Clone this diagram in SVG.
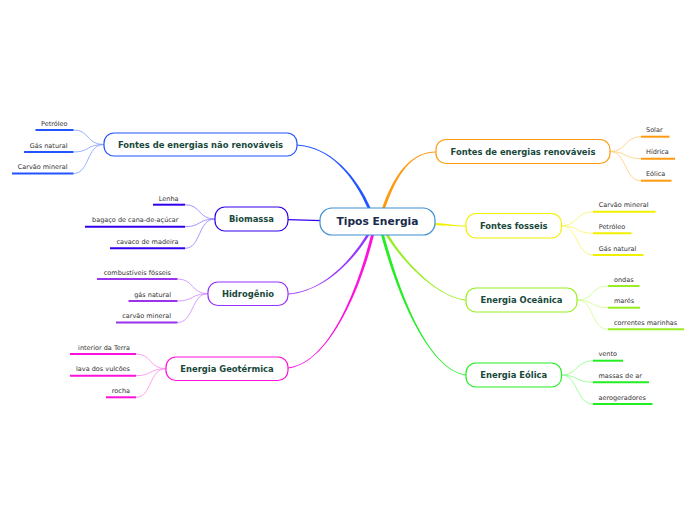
<svg xmlns="http://www.w3.org/2000/svg" width="696" height="520" viewBox="0 0 696 520">
<style>
.nt{font-family:"DejaVu Sans",Verdana,sans-serif;font-weight:bold;font-size:8.4px;fill:#17483a;text-anchor:middle}
.ct{font-family:"DejaVu Sans",Verdana,sans-serif;font-weight:bold;font-size:10.7px;fill:#1a2a4e;text-anchor:middle}
.lt{font-family:"DejaVu Sans",Verdana,sans-serif;font-size:6.5px;fill:#333}
.le{text-anchor:end}
.box{fill:#fff;stroke-width:1.2}
.ul{stroke-width:2;fill:none}
.lc{stroke-width:0.8;fill:none}
</style>
<rect width="696" height="520" fill="#fff"/>
<g id="connectors">
<path d="M297,144.6 C330,146.6 356.5,175 371.5,210 L368.5,210 C353.5,175 330,147.4 297,145.4 Z" fill="#2255ff"/>
<path d="M436,152.4 C412,152.4 397.5,172 384.5,210 L381.5,210 C394.5,172 412,151.6 436,151.6 Z" fill="#ff9a10"/>
<path d="M466,226.4 C452,226.4 446,225.2 432,225.2 L432,223 C446,223 452,225.6 466,225.6 Z" fill="#f0f000"/>
<path d="M288,219.6 L322,220.6" stroke="#3300ee" stroke-width="1.1" fill="none"/>
<path d="M288,293.6 C320,291.6 348.5,265 367.5,233 L370.5,233 C351.5,265 320,292.4 288,294.4 Z" fill="#9933ff"/>
<path d="M288,367.6 C326,363.6 355.5,298 371.5,233 L374.5,233 C358.5,298 326,364.4 288,368.4 Z" fill="#ff11dd"/>
<path d="M466,300.4 C440,298.4 403.5,265 384.5,233 L387.5,233 C406.5,265 440,297.6 466,299.6 Z" fill="#99ee22"/>
<path d="M466,375.4 C430,370.4 398.5,300 380.5,233 L383.5,233 C401.5,300 430,369.6 466,374.6 Z" fill="#22ee22"/>
<g stroke="#7f9fff" class="lc">
<path d="M104,144.5 C86,144.5 90,130 73.5,130"/>
<path d="M104,144.5 C86,144.5 90,152 73.5,152"/>
<path d="M104,144.5 C86,144.5 90,173.5 73.5,173.5"/>
</g>
<g stroke="#8c7dff" class="lc">
<path d="M215,219 C198,219 201,204.7 185,204.7"/>
<path d="M215,219 C198,219 201,226.7 185,226.7"/>
<path d="M215,219 C198,219 201,248.3 185,248.3"/>
</g>
<g stroke="#cc88ff" class="lc">
<path d="M208,293.7 C191,293.7 194,279 177.5,279"/>
<path d="M208,293.7 C191,293.7 194,301 177.5,301"/>
<path d="M208,293.7 C191,293.7 194,322.5 177.5,322.5"/>
</g>
<g stroke="#ff88ee" class="lc">
<path d="M166,368.7 C149,368.7 152,354 136,354"/>
<path d="M166,368.7 C149,368.7 152,375.7 136,375.7"/>
<path d="M166,368.7 C149,368.7 152,397.3 136,397.3"/>
</g>
<g stroke="#ffcc77" class="lc">
<path d="M610,151.5 C627,151.5 624,136.7 641,136.7"/>
<path d="M610,151.5 C627,151.5 624,158.7 641,158.7"/>
<path d="M610,151.5 C627,151.5 624,180.7 641,180.7"/>
</g>
<g stroke="#f6f660" class="lc">
<path d="M561.5,225.7 C578,225.7 576,211.7 593,211.7"/>
<path d="M561.5,225.7 C578,225.7 576,233.3 593,233.3"/>
<path d="M561.5,225.7 C578,225.7 576,255 593,255"/>
</g>
<g stroke="#ccff88" class="lc">
<path d="M577,300 C594,300 591,286 608,286"/>
<path d="M577,300 C594,300 591,307.7 608,307.7"/>
<path d="M577,300 C594,300 591,329.3 608,329.3"/>
</g>
<g stroke="#88ff88" class="lc">
<path d="M561.5,375 C578,375 576,360.7 593,360.7"/>
<path d="M561.5,375 C578,375 576,382.3 593,382.3"/>
<path d="M561.5,375 C578,375 576,404 593,404"/>
</g>
</g>
<g id="central">
<rect class="box" x="320" y="208" width="115" height="27" rx="12" stroke="#3b8fd4"/>
<text class="ct" x="377.5" y="225.3">Tipos Energia</text>
</g>
<g id="nao-renovaveis">
<rect class="box" x="104" y="133" width="193" height="23" rx="10" stroke="#2255ff"/>
<text class="nt" x="200.5" y="147.5">Fontes de energias não renováveis</text>
<g stroke="#2255ff" class="ul">
<line x1="35.5" y1="130" x2="73.5" y2="130"/>
<line x1="24" y1="152" x2="73.5" y2="152"/>
<line x1="12" y1="173.5" x2="73.5" y2="173.5"/>
</g>
<text class="lt le" x="67.5" y="125.5">Petróleo</text>
<text class="lt le" x="67.5" y="147.5">Gás natural</text>
<text class="lt le" x="67.5" y="169">Carvão mineral</text>
</g>
<g id="biomassa">
<rect class="box" x="215" y="207" width="73" height="24" rx="10" stroke="#3300ee"/>
<text class="nt" x="251.5" y="222">Biomassa</text>
<g stroke="#3300ee" class="ul">
<line x1="153" y1="204.7" x2="185" y2="204.7"/>
<line x1="85" y1="226.7" x2="185" y2="226.7"/>
<line x1="110" y1="248.3" x2="185" y2="248.3"/>
</g>
<text class="lt le" x="178.5" y="200.5">Lenha</text>
<text class="lt le" x="178.5" y="222.2">bagaço de cana-de-açúcar</text>
<text class="lt le" x="178.5" y="243.8">cavaco de madeira</text>
</g>
<g id="hidrogenio">
<rect class="box" x="208" y="282" width="80" height="23.5" rx="10" stroke="#9933ff"/>
<text class="nt" x="248" y="296.8">Hidrogênio</text>
<g stroke="#9933ee" class="ul">
<line x1="97" y1="279" x2="177.5" y2="279"/>
<line x1="128.5" y1="301" x2="177.5" y2="301"/>
<line x1="116" y1="322.5" x2="177.5" y2="322.5"/>
</g>
<text class="lt le" x="171" y="274.5">combustíveis fósseis</text>
<text class="lt le" x="171" y="296.5">gás natural</text>
<text class="lt le" x="171" y="318">carvão mineral</text>
</g>
<g id="geotermica">
<rect class="box" x="166" y="357" width="122" height="23.5" rx="10" stroke="#ff11dd"/>
<text class="nt" x="227" y="371.8">Energia Geotérmica</text>
<g stroke="#ff11dd" class="ul">
<line x1="70" y1="354" x2="136" y2="354"/>
<line x1="70" y1="375.7" x2="136" y2="375.7"/>
<line x1="106" y1="397.3" x2="136" y2="397.3"/>
</g>
<text class="lt le" x="130" y="349.5">interior da Terra</text>
<text class="lt le" x="130" y="371.2">lava dos vulcões</text>
<text class="lt le" x="130" y="392.8">rocha</text>
</g>
<g id="renovaveis">
<rect class="box" x="436" y="139.5" width="174" height="24" rx="10" stroke="#ff9a10"/>
<text class="nt" x="523" y="154.5">Fontes de energias renováveis</text>
<g stroke="#ff9a10" class="ul">
<line x1="641" y1="136.7" x2="669.5" y2="136.7"/>
<line x1="641" y1="158.7" x2="675" y2="158.7"/>
<line x1="641" y1="180.7" x2="671.5" y2="180.7"/>
</g>
<text class="lt" x="646" y="132.2">Solar</text>
<text class="lt" x="646" y="154.2">Hídrica</text>
<text class="lt" x="646" y="176.2">Eólica</text>
</g>
<g id="fosseis">
<rect class="box" x="466" y="213.5" width="95.5" height="24.5" rx="10" stroke="#f0f000"/>
<text class="nt" x="513.75" y="228.7">Fontes fosseis</text>
<g stroke="#f0f000" class="ul">
<line x1="593" y1="211.7" x2="655.5" y2="211.7"/>
<line x1="593" y1="233.3" x2="631.5" y2="233.3"/>
<line x1="593" y1="255" x2="643.5" y2="255"/>
</g>
<text class="lt" x="598.7" y="207.2">Carvão mineral</text>
<text class="lt" x="598.7" y="228.8">Petróleo</text>
<text class="lt" x="598.7" y="250.5">Gás natural</text>
</g>
<g id="oceanica">
<rect class="box" x="466" y="288" width="111" height="24" rx="10" stroke="#99ee22"/>
<text class="nt" x="521.5" y="303">Energia Oceânica</text>
<g stroke="#99ee22" class="ul">
<line x1="608" y1="286" x2="639.5" y2="286"/>
<line x1="608" y1="307.7" x2="640" y2="307.7"/>
<line x1="608" y1="329.3" x2="684" y2="329.3"/>
</g>
<text class="lt" x="614" y="281.5">ondas</text>
<text class="lt" x="614" y="303.2">marés</text>
<text class="lt" x="614" y="324.8">correntes marinhas</text>
</g>
<g id="eolica">
<rect class="box" x="466" y="363" width="95.5" height="24" rx="10" stroke="#22ee22"/>
<text class="nt" x="513.75" y="378">Energia Eólica</text>
<g stroke="#22ee22" class="ul">
<line x1="593" y1="360.7" x2="623" y2="360.7"/>
<line x1="593" y1="382.3" x2="649" y2="382.3"/>
<line x1="593" y1="404" x2="652.5" y2="404"/>
</g>
<text class="lt" x="598.5" y="356.2">vento</text>
<text class="lt" x="598.5" y="377.8">massas de ar</text>
<text class="lt" x="598.5" y="399.5">aerogeradores</text>
</g>
</svg>
